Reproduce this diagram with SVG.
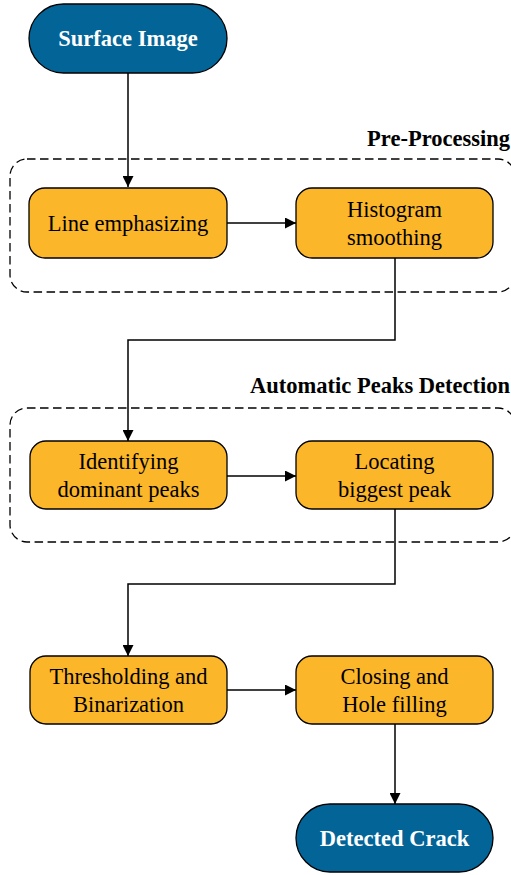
<svg xmlns="http://www.w3.org/2000/svg" width="511" height="875" viewBox="0 0 511 875">
<style>
.term{fill:#036497;stroke:#000;stroke-width:1.3}
.proc{fill:#FBB62A;stroke:#000;stroke-width:1.3}
.grp{fill:none;stroke:#000;stroke-width:1.3;stroke-dasharray:8.5 4.5}
.tw{font-family:"Liberation Serif","Times New Roman",serif;font-weight:bold;font-size:22.5px;fill:#fff;text-anchor:middle}
.tb{font-family:"Liberation Serif","Times New Roman",serif;font-size:22.5px;fill:#000;text-anchor:middle}
.lbl{font-family:"Liberation Serif","Times New Roman",serif;font-weight:bold;font-size:22.5px;fill:#000;text-anchor:end}
.con{fill:none;stroke:#000;stroke-width:1.5}
</style>
<defs>
<marker id="ah" viewBox="0 0 10 10" refX="10" refY="5" markerWidth="11" markerHeight="11" markerUnits="userSpaceOnUse" orient="auto"><path d="M0,0 L10,5 L0,10 Z" fill="#000"/></marker>
</defs>
<g id="group-preprocessing">
<rect class="grp" x="10" y="159" width="505" height="133" rx="17"/>
<text class="lbl" x="510" y="146">Pre-Processing</text>
</g>
<g id="group-peaks">
<rect class="grp" x="10" y="408" width="505" height="134" rx="17"/>
<text class="lbl" x="510" y="393">Automatic Peaks Detection</text>
</g>
<g id="connectors">
<path class="con" d="M128,73 V187" marker-end="url(#ah)"/>
<path class="con" d="M227,223 H296" marker-end="url(#ah)"/>
<path class="con" d="M395,258 V340 H128 V441" marker-end="url(#ah)"/>
<path class="con" d="M227,476 H296" marker-end="url(#ah)"/>
<path class="con" d="M395,509 V584 H128 V656" marker-end="url(#ah)"/>
<path class="con" d="M227,690 H296" marker-end="url(#ah)"/>
<path class="con" d="M395,724 V804" marker-end="url(#ah)"/>
</g>
<g id="surface-image">
<rect class="term" x="29" y="4" width="198" height="69" rx="34.5"/>
<text class="tw" x="128" y="46">Surface Image</text>
</g>
<g id="line-emphasizing">
<rect class="proc" x="29" y="188" width="198" height="70" rx="16"/>
<text class="tb" x="128" y="231">Line emphasizing</text>
</g>
<g id="histogram-smoothing">
<rect class="proc" x="296" y="188" width="197" height="70" rx="16"/>
<text class="tb" x="394.5" y="217">Histogram</text>
<text class="tb" x="394.5" y="245">smoothing</text>
</g>
<g id="identifying-peaks">
<rect class="proc" x="30" y="441" width="197" height="68" rx="16"/>
<text class="tb" x="128.5" y="469">Identifying</text>
<text class="tb" x="128.5" y="497">dominant peaks</text>
</g>
<g id="locating-peak">
<rect class="proc" x="296" y="441" width="197" height="68" rx="16"/>
<text class="tb" x="394.5" y="469">Locating</text>
<text class="tb" x="394.5" y="497">biggest peak</text>
</g>
<g id="thresholding">
<rect class="proc" x="30" y="656" width="197" height="68" rx="16"/>
<text class="tb" x="128.5" y="684">Thresholding and</text>
<text class="tb" x="128.5" y="712">Binarization</text>
</g>
<g id="closing">
<rect class="proc" x="296" y="656" width="197" height="68" rx="16"/>
<text class="tb" x="394.5" y="684">Closing and</text>
<text class="tb" x="394.5" y="712">Hole filling</text>
</g>
<g id="detected-crack">
<rect class="term" x="296" y="804" width="197" height="68" rx="34"/>
<text class="tw" x="394.5" y="846">Detected Crack</text>
</g>
</svg>
